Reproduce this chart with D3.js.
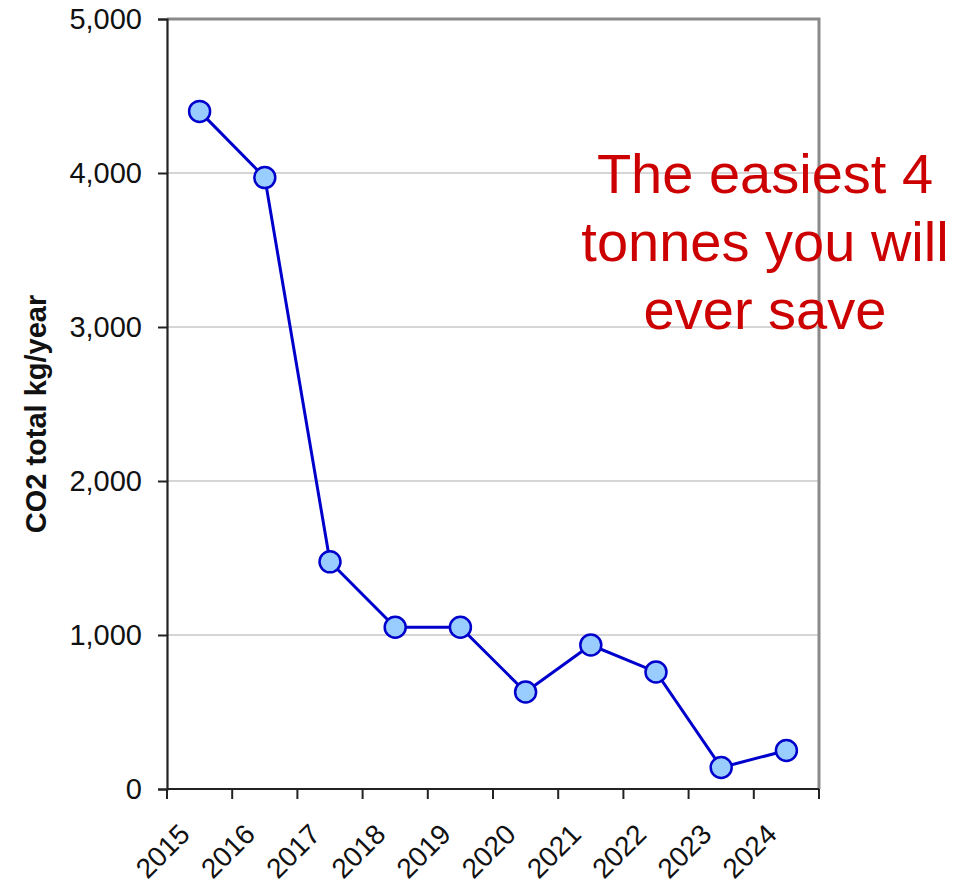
<!DOCTYPE html>
<html>
<head>
<meta charset="utf-8">
<script src="https://cdn.jsdelivr.net/npm/d3@7"></script>
<style>
  html, body { margin: 0; padding: 0; background: #fff; }
  svg { display: block; font-family: "Liberation Sans", Arial, sans-serif; }
</style>
</head>
<body>
<svg id="chart" width="973" height="885"></svg>
<script>
// Annual CO2 totals (kg/year)
const years = ["2015", "2016", "2017", "2018", "2019", "2020", "2021", "2022", "2023", "2024"];
const co2 = [4400, 3970, 1475, 1050, 1050, 630, 935, 760, 140, 250];
const yTicks = [0, 1000, 2000, 3000, 4000, 5000];
const yTitle = "CO2 total kg/year";
const noteLines = ["The easiest 4", "tonnes you will", "ever save"];

const W = 973, H = 885;
const margin = { top: 19, right: 154, bottom: 96, left: 167 };
const iw = W - margin.left - margin.right;
const ih = H - margin.top - margin.bottom;

const svg = d3.select("#chart");
const g = svg.append("g").attr("transform", `translate(${margin.left},${margin.top})`);

const x = d3.scaleBand().domain(years).range([0, iw]).padding(0);
const y = d3.scaleLinear().domain([0, 5000]).range([ih, 0]);

// horizontal gridlines
g.append("g")
  .selectAll("line")
  .data(yTicks.filter(t => t > 0 && t < 5000))
  .join("line")
  .attr("x1", 0).attr("x2", iw)
  .attr("y1", d => y(d)).attr("y2", d => y(d))
  .attr("stroke", "#c8c8c8").attr("stroke-width", 1.5);

// grey frame on top and right
g.append("path")
  .attr("d", `M0,${y(5000)}H${iw}V${ih}`)
  .attr("fill", "none")
  .attr("stroke", "#8a8a8a")
  .attr("stroke-width", 3);

// y axis
const yAxis = g.append("g")
  .call(d3.axisLeft(y).tickValues(yTicks).tickSize(9).tickPadding(16).tickFormat(d3.format(",")));
yAxis.select(".domain").attr("stroke", "#222").attr("stroke-width", 2.2);
yAxis.selectAll(".tick line").attr("stroke", "#222").attr("stroke-width", 2);
yAxis.selectAll(".tick text")
  .attr("font-size", 29)
  .attr("fill", "#111")
  .attr("font-family", "'Liberation Sans', Arial, sans-serif");

// x axis line and category boundary ticks
const bounds = years.map(d => x(d)).concat([x(years[years.length - 1]) + x.bandwidth()]);
g.append("line")
  .attr("x1", 0).attr("x2", iw)
  .attr("y1", ih).attr("y2", ih)
  .attr("stroke", "#222").attr("stroke-width", 2.2);
g.append("g")
  .selectAll("line")
  .data(bounds)
  .join("line")
  .attr("x1", d => d).attr("x2", d => d)
  .attr("y1", ih).attr("y2", ih + 10)
  .attr("stroke", "#222").attr("stroke-width", 2);

// rotated year labels
g.append("g")
  .selectAll("text")
  .data(years)
  .join("text")
  .attr("transform", d => `translate(${x(d) + x.bandwidth() / 2 - 8},${ih + 47}) rotate(-45)`)
  .attr("text-anchor", "end")
  .attr("font-size", 28)
  .attr("fill", "#111")
  .text(d => d);

// y title
svg.append("text")
  .attr("transform", `translate(46,414) rotate(-90)`)
  .attr("text-anchor", "middle")
  .attr("font-size", 29)
  .attr("font-weight", "bold")
  .attr("fill", "#111")
  .text(yTitle);

// series line
const pts = years.map((yr, i) => ({ yr, v: co2[i] }));
const line = d3.line()
  .x(d => x(d.yr) + x.bandwidth() / 2)
  .y(d => y(d.v));
g.append("path")
  .datum(pts)
  .attr("d", line)
  .attr("fill", "none")
  .attr("stroke", "#0000cc")
  .attr("stroke-width", 3);

// markers
g.append("g")
  .selectAll("circle")
  .data(pts)
  .join("circle")
  .attr("cx", d => x(d.yr) + x.bandwidth() / 2)
  .attr("cy", d => y(d.v))
  .attr("r", 10.5)
  .attr("fill", "#99ccff")
  .attr("stroke", "#0000cc")
  .attr("stroke-width", 2.5);

// annotation
svg.append("text")
  .attr("text-anchor", "middle")
  .attr("font-size", 56)
  .attr("fill", "#cc0000")
  .selectAll("tspan")
  .data(noteLines)
  .join("tspan")
  .attr("x", 765)
  .attr("y", (d, i) => 193 + i * 68)
  .text(d => d);
</script>
</body>
</html>
